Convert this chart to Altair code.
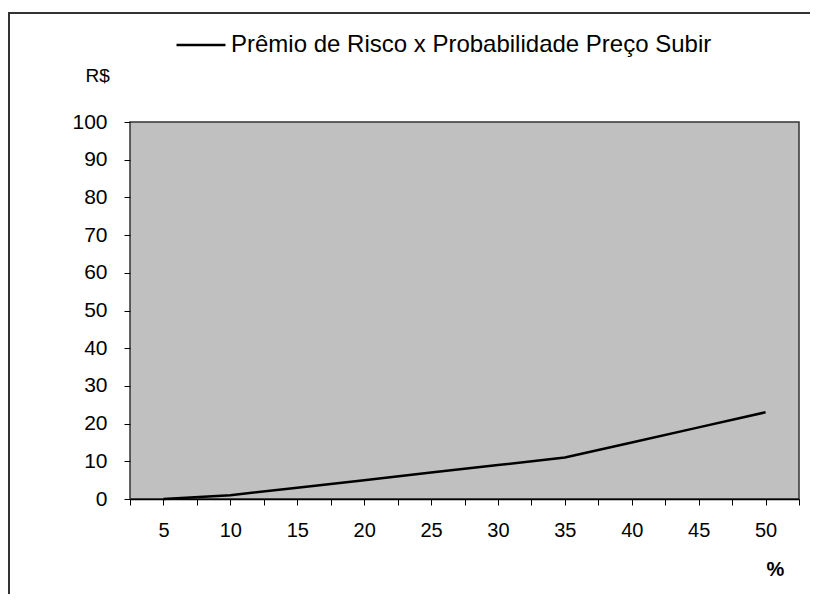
import altair as alt
import pandas as pd

prob = [5, 10, 15, 20, 25, 30, 35, 40, 45, 50]
premio = [0, 1, 3, 5, 7, 9, 11, 15, 19, 23]
series_name = "Prêmio de Risco x Probabilidade Preço Subir"
x_ticks = [2.5 * i for i in range(1, 22)]
y_ticks = list(range(0, 101, 10))

df = pd.DataFrame({"p": prob, "v": premio, "s": [series_name] * len(prob)})

FONT = "Liberation Sans"

frame = alt.Chart(pd.DataFrame({"a": [0]})).mark_rect(
    fill="transparent", stroke="#333333", strokeWidth=2, clip=False
).encode(
    x=alt.value(-121), y=alt.value(-109), x2=alt.value(900), y2=alt.value(577)
)

line = alt.Chart(df).mark_line(strokeWidth=2.5, clip=False).encode(
    x=alt.X(
        "p:Q",
        scale=alt.Scale(domain=[2.5, 52.5], nice=False, zero=False),
        axis=alt.Axis(
            values=x_ticks,
            labelExpr="datum.value % 5 == 0 ? datum.label : ''",
            title="%",
            titleFontWeight="bold",
            titleX=645,
            titleY=70,
            titleAnchor="start",
            titleAlign="center",
            titleBaseline="middle",
            titleFontSize=20,
            tickSize=6,
            tickColor="#000000",
            domainColor="#000000",
            domainWidth=1.5,
            labelPadding=15,
            labelFontSize=20,
            labelColor="#000000",
            grid=False,
        ),
    ),
    y=alt.Y(
        "v:Q",
        scale=alt.Scale(domain=[0, 100], nice=False),
        axis=alt.Axis(
            values=y_ticks,
            title="R$",
            titleAngle=0,
            titleX=-45,
            titleY=-47,
            titleAlign="left",
            titleBaseline="middle",
            titleFontWeight="normal",
            titleFontSize=19,
            tickSize=6,
            tickColor="#000000",
            domain=False,
            labelPadding=17,
            labelFontSize=21,
            labelColor="#000000",
            grid=False,
        ),
    ),
    color=alt.Color(
        "s:N",
        scale=alt.Scale(range=["#000000"]),
        legend=alt.Legend(
            title=None,
            orient="none",
            legendX=45,
            legendY=-103,
            symbolType="stroke",
            symbolSize=2400,
            symbolStrokeWidth=2.5,
            labelFontSize=24,
            labelLimit=0,
            labelOffset=4,
            labelColor="#000000",
            padding=0,
        ),
    ),
)

chart = alt.layer(line, frame).properties(
    width=669,
    height=377,
    autosize=alt.AutoSizeParams(type="none"),
    padding={"left": 122, "top": 114, "right": 11, "bottom": 95},
    view=alt.ViewBackground(fill="#C0C0C0", stroke="#333333", strokeWidth=1.5),
).configure(font=FONT)

chart.save("out.html", embed_options={"renderer": "svg", "actions": False})
